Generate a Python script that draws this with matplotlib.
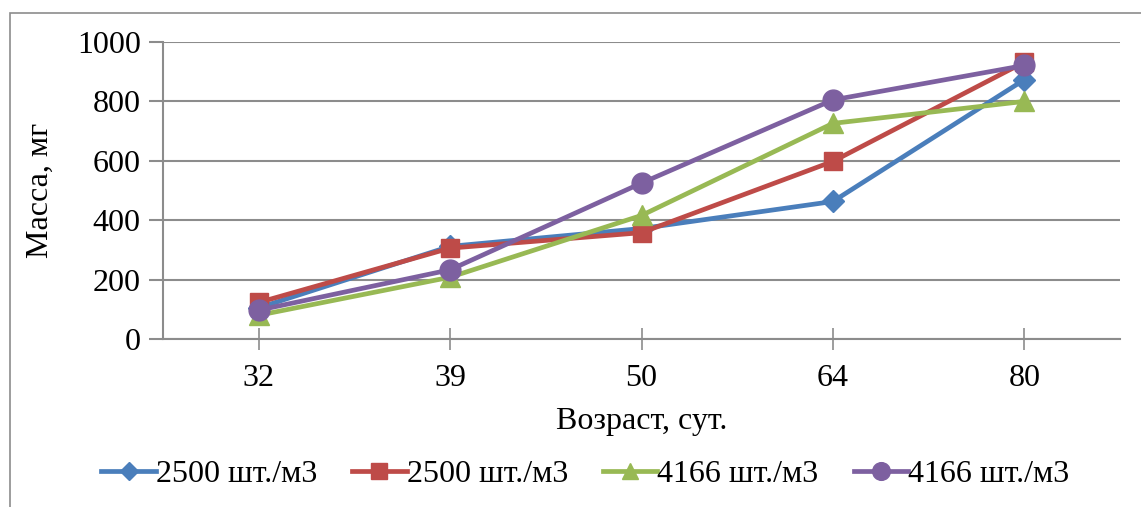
import numpy as np
import matplotlib.pyplot as plt
from matplotlib.patches import Rectangle

plt.rcParams['font.family'] = ['Liberation Serif', 'DejaVu Serif']

# Age (days) and mean mass (mg) for each stocking density
days = ['32', '39', '50', '64', '80']
mass_a = [105, 312, 372, 463, 873]
mass_b = [123, 306, 358, 598, 932]
mass_c = [80, 208, 416, 726, 800]
mass_d = [97, 233, 525, 805, 921]
names = ['2500 шт./м3', '2500 шт./м3', '4166 шт./м3', '4166 шт./м3']

colors = ['#4A7EBB', '#BE4B48', '#98B954', '#7D60A0']
markers = ['D', 's', '^', 'o']
msizes = [11, 13, 14, 15]

fig = plt.figure(figsize=(11.41, 5.07), dpi=100)
ax = fig.add_axes([163/1141, 1-339/507, (1120-163)/1141, (339-42)/507])

x = np.arange(len(days)) + 0.5
for y, c, m, ms, lab in zip([mass_a, mass_b, mass_c, mass_d], colors, markers, msizes, names):
    ax.plot(x, y, color=c, lw=3.4, marker=m, ms=ms, mec=c, mfc=c, label=lab)

ax.set_xlim(0, len(days))
ax.set_ylim(0, 1000)
ax.set_yticks(range(0, 1001, 200))
ax.set_xticks(x)
ax.set_xticklabels(days)
ax.grid(axis='y', color='#8c8c8c', lw=1.5)
ax.set_axisbelow(True)
for s in ['top', 'right']:
    ax.spines[s].set_visible(False)
for s in ['left', 'bottom']:
    ax.spines[s].set_color('#8c8c8c')
    ax.spines[s].set_linewidth(1.5)
ax.tick_params(axis='y', length=10, width=1.5, color='#8c8c8c', labelsize=23, pad=6)
ax.tick_params(axis='x', direction='inout', length=16, width=1.2, color='#8c8c8c', labelsize=23, pad=10)
ax.set_xlabel('Возраст, сут.', fontsize=23, labelpad=10)
ax.set_ylabel('Масса, мг', fontsize=23, labelpad=16)

leg = fig.legend(loc='center', bbox_to_anchor=(0.513, 1-474/507), ncol=4, frameon=False,
                 fontsize=23, handlelength=1.7, handletextpad=0.0, columnspacing=1.1,
                 borderaxespad=0, markerscale=0.85)

fig.patches.append(Rectangle((10/1141, -0.1), 1.2, 1-13/507+0.1, transform=fig.transFigure,
                             fill=False, ec='#8c8c8c', lw=1.2))

fig.savefig('out.png', dpi=100)
